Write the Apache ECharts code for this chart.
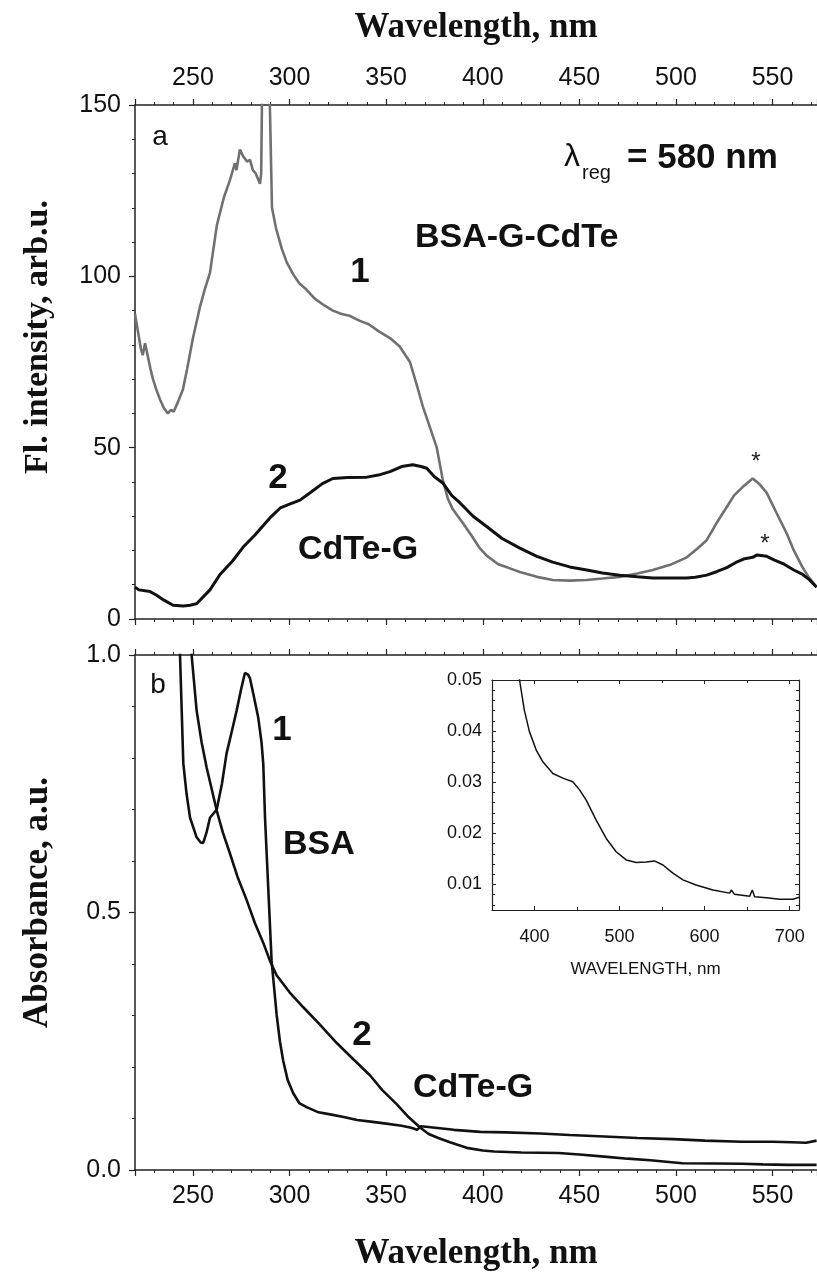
<!DOCTYPE html>
<html><head><meta charset="utf-8">
<script src="https://cdn.jsdelivr.net/npm/echarts@6/dist/echarts.min.js"></script>
<style>html,body{margin:0;padding:0;background:#fff}#c{width:817px;height:1278px}</style>
</head><body><div id="c"></div>
<script>
// ---- Panel a: fluorescence excitation (λreg = 580 nm) ----
const flWave1 = [220,221.5,223,224,225.2,226.7,228,229.3,231,233,235,237,238.5,240,242,244.8,247,250,253.6,256,258.8,262.4,266,269.1,271.7,272.5,274.3,276,278,279.5,281,282.5,284.7,285.3,285.7,286,289.5,289.8,290.9,293,296,298.6,302,305,309,313,318,322.4,327,331,336.4,341,346,352,357,362.3,366,369,372,376.2,379.3,382,384.5,389.7,394,398,402,408,413,419.2,428,436.2,445,453.8,462,470.9,480,488,497,505.6,511,515.9,521,526.3,530,534.5,539.7,543,547,552,557.3,561,565.6,569,572.8];
const flInt1  = [89,84,79,77,80.5,76.5,73,70,67,64,61.5,60,61,60.5,63,67,73,82,91,96,101,115,123,128,133,131,137,135,133.5,134,131,130,127,130,150,165,165,150,120,114,108,104,100.5,98,96,93.5,91.5,90,89,88.5,87,86,84,82,79.5,75,68,62,57,50,40.6,35,32,28,24.5,21,18.5,16,15,13.7,12.3,11.4,11.2,11.4,11.8,12.3,13.3,14.3,15.8,18,20.5,23,28,32.7,36,38.5,41,39.5,36.8,31,25,20,15,12,9.3];
const flWave2 = [220,222,227.8,231,235,239.7,245,248.5,252,258.8,264,270.6,276,282.1,289.8,295.2,300,305.4,311,317,322.4,330,340,346,352,358,363.8,368,371,375,379.3,384,388,395,402,410,419.2,428,436.2,445,453.8,462,470.9,480,488,497,505.6,510,515.9,521,526.3,531,535,539.7,542,547,551,556,561,565.6,569,572.8];
const flInt2  = [9.3,8.5,8,7,5.5,4,3.8,4,4.5,8.5,13,17,21,24.5,29.5,32.4,33.5,34.7,37,39.5,41,41.3,41.4,42,43,44.5,45,44.5,44,41.5,39.7,36,34,30,27,23.5,20.7,18.3,16.6,15.2,14.3,13.4,12.8,12.3,12,12,12,12.2,12.8,13.8,15,16.5,17.5,18,18.7,18.3,17.2,16,14.3,13,11.5,9.3];

// ---- Panel b: absorbance ----
const absWave1 = [238,243.3,245,246.7,248.5,251.9,254,255.3,257,258.8,262.3,265,267.4,270,272.6,275,276.9,278.5,279.5,281.5,283.8,285.5,286.4,287.3,289,290.7,293.3,295,296.7,299,301.9,305,308.8,315,321,328,335,342,350,358,363,366,368,373,385,398.8,412,429.7,445,462.9,480,498.5,515,534.1,550,560,567.3,572.8];
const absVal1  = [1.3,1.0,0.79,0.73,0.684,0.646,0.636,0.635,0.655,0.684,0.70,0.75,0.809,0.85,0.892,0.935,0.965,0.962,0.955,0.92,0.878,0.83,0.788,0.684,0.545,0.406,0.302,0.25,0.212,0.175,0.149,0.13,0.122,0.112,0.108,0.103,0.097,0.094,0.090,0.086,0.082,0.078,0.085,0.083,0.078,0.074,0.073,0.071,0.068,0.065,0.062,0.060,0.057,0.055,0.055,0.054,0.053,0.057];
const absWave2 = [247,249.3,251.9,254.5,257.1,262.3,265.5,269.1,273,277.8,282,286.4,290,293.3,300,307.1,315,324.3,333,341.6,348,355.4,361,367.4,372,377,383,391.7,400,406,420,439.2,450,462.9,475,486.7,495,503.3,520,534.1,545,557.8,572.8];
const absVal2  = [1.12,1.0,0.892,0.83,0.781,0.698,0.655,0.615,0.57,0.524,0.48,0.441,0.405,0.378,0.345,0.316,0.285,0.247,0.215,0.184,0.155,0.128,0.105,0.083,0.07,0.062,0.054,0.043,0.038,0.036,0.034,0.033,0.030,0.026,0.022,0.019,0.016,0.013,0.0125,0.012,0.011,0.010,0.010];

// ---- Inset: CdTe-G absorbance, 350-710 nm ----
const insetWave = [380,382.4,388,394,402,409.8,421.6,433.3,445,453,460.8,472.5,484.3,496,507.8,519.6,531.4,541,551,562.7,574.5,590,609.8,629.4,631.4,635,653,656,658.8,672.5,688,704,711];
const insetVal  = [0.053,0.05,0.0441,0.0399,0.0363,0.034,0.0317,0.0308,0.0301,0.0285,0.0265,0.0226,0.019,0.0164,0.0148,0.0143,0.0144,0.0146,0.0138,0.0122,0.0109,0.0099,0.0089,0.0083,0.0089,0.0081,0.0077,0.0089,0.0076,0.0074,0.0071,0.0071,0.0075];

// tick labels
const topXLabels = [250,300,350,400,450,500,550];
const flYLabels = [0,50,100,150];
const absYLabels = ['0.0','0.5','1.0'];
const insetXLabels = [400,500,600,700];

const zip = (a,b) => a.map((v,i)=>[v,b[i]]);
const sans = '"Liberation Sans", Arial, sans-serif';
const serif = '"Liberation Serif", "Times New Roman", serif';
const AX = '#222';

function xAx(grid, pos, opts) {
  return Object.assign({
    type:'value', gridIndex:grid, position:pos, min:220, max:573,
    minInterval:50, maxInterval:50,
    axisLine:{show:true, onZero:false, lineStyle:{color:AX, width:1.5}},
    axisTick:{show:true, length:6, lineStyle:{color:AX, width:1.2}},
    minorTick:{show:true, splitNumber:5, length:3, lineStyle:{color:AX, width:1}},
    splitLine:{show:false},
    axisLabel:{show:false}
  }, opts||{});
}
const xLabel = {show:true, fontSize:25, color:'#111', fontFamily:sans, margin:14,
  showMinLabel:false, showMaxLabel:false,
  formatter: v => topXLabels.includes(Math.round(v)) && Math.abs(v-Math.round(v))<1e-6 ? String(Math.round(v)) : ''};
const xName = {fontFamily:serif, fontWeight:'bold', fontSize:35, color:'#111'};

const option = {
  animation:false,
  backgroundColor:'#fff',
  grid:[
    {left:135, right:0, top:105, height:514},
    {left:135, right:0, top:655, height:515},
    {left:492, top:680, width:307, height:230, show:true, backgroundColor:'#fff', borderWidth:0}
  ],
  xAxis:[
    xAx(0,'top',{axisLabel:xLabel, name:'Wavelength, nm', nameLocation:'middle', nameGap:60, nameTextStyle:xName}),
    xAx(0,'bottom'),
    xAx(1,'bottom',{axisLabel:xLabel, name:'Wavelength, nm', nameLocation:'middle', nameGap:66, nameTextStyle:xName}),
    xAx(1,'top'),
    {type:'value', gridIndex:2, position:'bottom', min:350, max:711, minInterval:100, maxInterval:100,
     axisLine:{show:true,onZero:false,lineStyle:{color:AX,width:1.2}},
     axisTick:{show:true,length:4,inside:true,lineStyle:{color:AX}},
     minorTick:{show:true,splitNumber:2,length:3,lineStyle:{color:AX}},
     splitLine:{show:false},
     axisLabel:{show:true,fontSize:18,fontFamily:sans,color:'#111',margin:18,showMinLabel:false,showMaxLabel:false,
       formatter:v=> insetXLabels.includes(Math.round(v)) && Math.abs(v-Math.round(v))<1e-6 ? String(Math.round(v)) : ''},
     name:'WAVELENGTH, nm', nameLocation:'middle', nameGap:51,
     nameTextStyle:{fontFamily:sans,fontSize:17,color:'#111'}},
    {type:'value', gridIndex:2, position:'top', min:350, max:711, minInterval:100, maxInterval:100,
     axisLine:{show:true,onZero:false,lineStyle:{color:AX,width:1.2}},
     axisTick:{show:true,length:4,inside:true,lineStyle:{color:AX}},
     minorTick:{show:true,splitNumber:2,length:3,lineStyle:{color:AX}},
     splitLine:{show:false}, axisLabel:{show:false}}
  ],
  yAxis:[
    {type:'value', gridIndex:0, min:0, max:150, interval:50,
     axisLine:{show:true,onZero:false,lineStyle:{color:AX,width:1.5}},
     axisTick:{show:true,length:6,lineStyle:{color:AX,width:1.2}},
     minorTick:{show:true,splitNumber:5,length:3,lineStyle:{color:AX}},
     splitLine:{show:false},
     axisLabel:{fontSize:25,fontFamily:sans,color:'#111',margin:14,
       formatter:v=> flYLabels.includes(v) ? String(v) : ''},
     name:'Fl. intensity, arb.u.', nameLocation:'middle', nameGap:80, nameRotate:90,
     nameTextStyle:{fontFamily:serif,fontWeight:'bold',fontSize:34,color:'#111', padding:[0,0,0,50]}},
    {type:'value', gridIndex:1, min:0, max:1, interval:0.5,
     axisLine:{show:true,onZero:false,lineStyle:{color:AX,width:1.5}},
     axisTick:{show:true,length:6,lineStyle:{color:AX,width:1.2}},
     minorTick:{show:true,splitNumber:5,length:3,lineStyle:{color:AX}},
     splitLine:{show:false},
     axisLabel:{fontSize:25,fontFamily:sans,color:'#111',margin:14,
       formatter:v=> absYLabels[Math.round(v*2)]},
     name:'Absorbance, a.u.', nameLocation:'middle', nameGap:80, nameRotate:90,
     nameTextStyle:{fontFamily:serif,fontWeight:'bold',fontSize:35,color:'#111', padding:[0,0,0,20]}},
    {type:'value', gridIndex:2, min:0.005, max:0.05, minInterval:0.01, maxInterval:0.01,
     axisLine:{show:true,onZero:false,lineStyle:{color:AX,width:1.2}},
     axisTick:{show:true,length:4,inside:true,lineStyle:{color:AX}},
     minorTick:{show:true,splitNumber:5,length:3,lineStyle:{color:AX}},
     splitLine:{show:false},
     axisLabel:{fontSize:18,fontFamily:sans,color:'#111',margin:10,showMinLabel:false,
       formatter:v=> v<0.0075 ? '' : v.toFixed(2)}},
    {type:'value', gridIndex:2, position:'right', min:0.005, max:0.05, minInterval:0.01, maxInterval:0.01,
     axisLine:{show:true,onZero:false,lineStyle:{color:AX,width:1.2}},
     axisTick:{show:true,length:4,inside:true,lineStyle:{color:AX}},
     minorTick:{show:true,splitNumber:5,length:3,lineStyle:{color:AX}},
     splitLine:{show:false}, axisLabel:{show:false}}
  ],
  series:[
    {type:'line', xAxisIndex:0, yAxisIndex:0, data:zip(flWave1,flInt1), showSymbol:false, clip:true,
     lineStyle:{color:'#707070', width:2.6}, z:3},
    {type:'line', xAxisIndex:0, yAxisIndex:0, data:zip(flWave2,flInt2), showSymbol:false, clip:true,
     lineStyle:{color:'#111', width:3}, z:4},
    {type:'line', xAxisIndex:2, yAxisIndex:1, data:zip(absWave1,absVal1), showSymbol:false, clip:true,
     lineStyle:{color:'#111', width:2.6}},
    {type:'line', xAxisIndex:2, yAxisIndex:1, data:zip(absWave2,absVal2), showSymbol:false, clip:true,
     lineStyle:{color:'#111', width:2.6}},
    {type:'line', xAxisIndex:4, yAxisIndex:2, data:zip(insetWave,insetVal), showSymbol:false, clip:true,
     lineStyle:{color:'#111', width:1.5}, z:5}
  ],
  graphic:[
    {type:'text', x:160, y:137, style:{text:'a', font:'28px '+sans, fill:'#111', align:'center', verticalAlign:'middle'}},
    {type:'text', x:572, y:157, style:{text:'λ', font:'32px '+sans, fill:'#111', align:'center', verticalAlign:'middle'}},
    {type:'text', x:582, y:173, style:{text:'reg', font:'20px '+sans, fill:'#111', align:'left', verticalAlign:'middle'}},
    {type:'text', x:627, y:158, style:{text:'= 580 nm', font:'bold 35px '+sans, fill:'#111', align:'left', verticalAlign:'middle'}},
    {type:'text', x:415, y:238, style:{text:'BSA-G-CdTe', font:'bold 34px '+sans, fill:'#111', align:'left', verticalAlign:'middle'}},
    {type:'text', x:360, y:272, style:{text:'1', font:'bold 35px '+sans, fill:'#111', align:'center', verticalAlign:'middle'}},
    {type:'text', x:278, y:478, style:{text:'2', font:'bold 35px '+sans, fill:'#111', align:'center', verticalAlign:'middle'}},
    {type:'text', x:298, y:550, style:{text:'CdTe-G', font:'bold 34px '+sans, fill:'#111', align:'left', verticalAlign:'middle'}},
    {type:'text', x:756, y:462, style:{text:'*', font:'24px '+sans, fill:'#222', align:'center', verticalAlign:'middle'}},
    {type:'text', x:765, y:544, style:{text:'*', font:'24px '+sans, fill:'#222', align:'center', verticalAlign:'middle'}},
    {type:'text', x:158, y:685, style:{text:'b', font:'28px '+sans, fill:'#111', align:'center', verticalAlign:'middle'}},
    {type:'text', x:282, y:730, style:{text:'1', font:'bold 35px '+sans, fill:'#111', align:'center', verticalAlign:'middle'}},
    {type:'text', x:283, y:845, style:{text:'BSA', font:'bold 34px '+sans, fill:'#111', align:'left', verticalAlign:'middle'}},
    {type:'text', x:362, y:1035, style:{text:'2', font:'bold 35px '+sans, fill:'#111', align:'center', verticalAlign:'middle'}},
    {type:'text', x:413, y:1088, style:{text:'CdTe-G', font:'bold 34px '+sans, fill:'#111', align:'left', verticalAlign:'middle'}}
  ]
};
const chart = echarts.init(document.getElementById('c'), null, {renderer:'canvas'});
chart.setOption(option);
</script>
</body></html>
